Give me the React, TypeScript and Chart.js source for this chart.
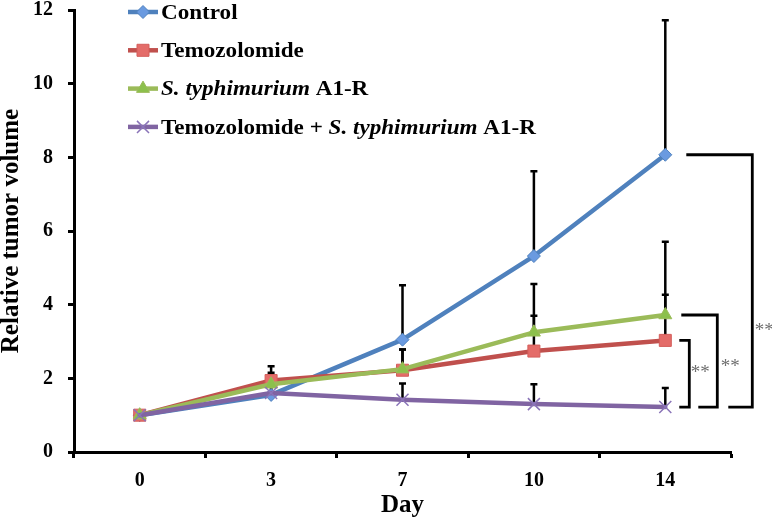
import React, { useEffect, useRef } from "react";
import { Chart, registerables } from "chart.js";

Chart.register(...registerables);

const FONT = "'Liberation Serif', 'Times New Roman', serif";

// ---- data ----
const days = ["0", "3", "7", "10", "14"];
const yTicks = [0, 2, 4, 6, 8, 10, 12];

const controlValues = [1.0, 1.55, 3.05, 5.32, 8.07];
const controlErrors = [0, 0.3, 1.48, 2.3, 3.65];

const temozolomideValues = [1.0, 1.94, 2.22, 2.74, 3.03];
const temozolomideErrors = [0, 0.39, 0.56, 0.96, 1.24];

const salmonellaValues = [1.0, 1.84, 2.25, 3.25, 3.72];
const salmonellaErrors = [0, 0.31, 0.53, 1.31, 1.99];

const comboValues = [1.0, 1.6, 1.42, 1.3, 1.22];
const comboErrors = [0, 0.2, 0.44, 0.54, 0.52];

const seriesNames = [
  "Control",
  "Temozolomide",
  "S. typhimurium A1-R",
  "Temozolomide + S. typhimurium A1-R",
];

// legend text split in plain / italic parts
const legendParts = [
  [{ text: "Control", italic: false }],
  [{ text: "Temozolomide", italic: false }],
  [
    { text: "S. typhimurium", italic: true },
    { text: " A1-R", italic: false },
  ],
  [
    { text: "Temozolomide + ", italic: false },
    { text: "S. typhimurium", italic: true },
    { text: " A1-R", italic: false },
  ],
];

// significance comparisons at the last day: [series A, series B]
const comparisons = [
  [1, 3],
  [2, 3],
  [0, 3],
];
const comparisonLabels = ["**", "**", "**"];

// ---- styles ----
const lineColors = ["#4F81BD", "#C0504D", "#9BBB59", "#8064A2"];
const markerFills = ["#6A9AE0", "#E46C69", "#8CC04C", "#8A74B8"];
const markerBorders = ["#4F81BD", "#D45E5B", "#9BBB59", "#8A74B8"];
const markerStyles = ["rectRot", "rect", "triangle", "crossRot"];
const markerRadii = [6.5, 8.5, 7.5, 8.5];

function drawMarker(ctx: CanvasRenderingContext2D, style: string, x: number, y: number, r: number, fill: string, stroke: string) {
  ctx.save();
  ctx.beginPath();
  ctx.fillStyle = fill;
  ctx.strokeStyle = stroke;
  ctx.lineWidth = style === "crossRot" ? 1.5 : 1;
  if (style === "rectRot") {
    ctx.moveTo(x - r, y);
    ctx.lineTo(x, y - r);
    ctx.lineTo(x + r, y);
    ctx.lineTo(x, y + r);
    ctx.closePath();
    ctx.fill();
    ctx.stroke();
  } else if (style === "rect") {
    const s = Math.SQRT1_2 * r;
    ctx.rect(x - s, y - s, 2 * s, 2 * s);
    ctx.fill();
    ctx.stroke();
  } else if (style === "triangle") {
    let a = 0;
    ctx.moveTo(x + Math.sin(a) * r, y - Math.cos(a) * r);
    a += (2 * Math.PI) / 3;
    ctx.lineTo(x + Math.sin(a) * r, y - Math.cos(a) * r);
    a += (2 * Math.PI) / 3;
    ctx.lineTo(x + Math.sin(a) * r, y - Math.cos(a) * r);
    ctx.closePath();
    ctx.fill();
    ctx.stroke();
  } else {
    const o = Math.SQRT1_2 * r;
    ctx.moveTo(x - o, y - o);
    ctx.lineTo(x + o, y + o);
    ctx.moveTo(x + o, y - o);
    ctx.lineTo(x - o, y + o);
    ctx.stroke();
  }
  ctx.restore();
}

const errorBarPlugin = {
  id: "errorBars",
  beforeDatasetsDraw(chart: any) {
    const ctx = chart.ctx as CanvasRenderingContext2D;
    const yScale = chart.scales.y;
    ctx.save();
    ctx.strokeStyle = "#000";
    ctx.lineWidth = 2.5;
    chart.data.datasets.forEach((ds: any, i: number) => {
      const meta = chart.getDatasetMeta(i);
      meta.data.forEach((pt: any, j: number) => {
        const e = ds.errors[j];
        if (!e) return;
        const v = ds.data[j];
        const y0 = yScale.getPixelForValue(v);
        const y1 = yScale.getPixelForValue(v + e);
        ctx.beginPath();
        ctx.moveTo(pt.x, y0);
        ctx.lineTo(pt.x, y1);
        ctx.moveTo(pt.x - 3.5, y1);
        ctx.lineTo(pt.x + 3.5, y1);
        ctx.stroke();
      });
    });
    ctx.restore();
  },
};

const bracketGeom = [
  { topStart: 14, bottomStart: 14, vx: 24, labelDx: 35, labelY: 368 },
  { topStart: 16, bottomStart: 33, vx: 52, labelDx: 65, labelY: 362 },
  { topStart: 21, bottomStart: 63, vx: 87, labelDx: 99, labelY: 326 },
];

const bracketPlugin = {
  id: "brackets",
  afterDatasetsDraw(chart: any) {
    const ctx = chart.ctx as CanvasRenderingContext2D;
    const xScale = chart.scales.x;
    const yScale = chart.scales.y;
    const last = days.length - 1;
    const x0 = xScale.getPixelForValue(last);
    ctx.save();
    comparisons.forEach(([a, b], k) => {
      const g = bracketGeom[k];
      const ya = yScale.getPixelForValue(chart.data.datasets[a].data[last]);
      const yb = yScale.getPixelForValue(chart.data.datasets[b].data[last]);
      ctx.strokeStyle = "#000";
      ctx.lineWidth = 2.8;
      ctx.lineJoin = "miter";
      ctx.beginPath();
      ctx.moveTo(x0 + g.topStart, ya);
      ctx.lineTo(x0 + g.vx, ya);
      ctx.lineTo(x0 + g.vx, yb);
      ctx.lineTo(x0 + g.bottomStart, yb);
      ctx.stroke();
      ctx.fillStyle = "#6E6E6E";
      ctx.font = `19px ${FONT}`;
      ctx.textAlign = "center";
      ctx.textBaseline = "alphabetic";
      ctx.fillText(comparisonLabels[k], x0 + g.labelDx, g.labelY + 10);
    });
    ctx.restore();
  },
};

const legendPlugin = {
  id: "customLegend",
  afterDraw(chart: any) {
    const ctx = chart.ctx as CanvasRenderingContext2D;
    ctx.save();
    legendParts.forEach((parts, i) => {
      const y = 12 + i * 38.3;
      ctx.strokeStyle = lineColors[i];
      ctx.lineWidth = 4.5;
      ctx.lineCap = "butt";
      ctx.beginPath();
      ctx.moveTo(128, y);
      ctx.lineTo(158, y);
      ctx.stroke();
      drawMarker(ctx, markerStyles[i], 143, y, markerRadii[i], markerFills[i], markerBorders[i]);
      ctx.save();
      ctx.translate(161, y + 6.6);
      ctx.scale(1.155, 1);
      ctx.fillStyle = "#000";
      ctx.textAlign = "left";
      ctx.textBaseline = "alphabetic";
      let x = 0;
      parts.forEach((p) => {
        ctx.font = `${p.italic ? "italic " : ""}bold 20px ${FONT}`;
        ctx.fillText(p.text, x, 0);
        x += ctx.measureText(p.text).width;
      });
      ctx.restore();
    });
    ctx.restore();
  },
};

export default function App() {
  const canvasRef = useRef<HTMLCanvasElement | null>(null);

  useEffect(() => {
    const canvas = canvasRef.current;
    if (!canvas) return;
    const seriesValues = [controlValues, temozolomideValues, salmonellaValues, comboValues];
    const seriesErrors = [controlErrors, temozolomideErrors, salmonellaErrors, comboErrors];

    const chart = new Chart(canvas, {
      type: "line",
      data: {
        labels: days,
        datasets: seriesNames.map((name, i) => ({
          label: name,
          data: seriesValues[i],
          errors: seriesErrors[i],
          borderColor: lineColors[i],
          backgroundColor: markerFills[i],
          borderWidth: 4.5,
          tension: 0,
          fill: false,
          borderJoinStyle: "round",
          borderCapStyle: "round",
          pointStyle: markerStyles[i],
          pointRadius: markerRadii[i],
          pointBackgroundColor: markerFills[i],
          pointBorderColor: markerBorders[i],
          pointBorderWidth: markerStyles[i] === "crossRot" ? 1.5 : 1,
          order: seriesNames.length - 1 - i,
        })) as any,
      },
      options: {
        responsive: false,
        animation: false,
        devicePixelRatio: 1,
        layout: { padding: { left: 0, right: 41, top: 8, bottom: 0 } },
        plugins: {
          legend: { display: false },
          tooltip: { enabled: false },
        },
        scales: {
          x: {
            type: "category",
            offset: true,
            grid: {
              offset: true,
              drawOnChartArea: false,
              drawTicks: true,
              tickLength: 6,
              tickWidth: 3,
              tickColor: "#000",
            },
            border: { display: true, color: "#000", width: 3 },
            ticks: {
              color: "#000",
              font: { family: FONT, size: 20, weight: "bold" },
              padding: 11,
              maxRotation: 0,
            },
            title: {
              display: true,
              text: "Day",
              color: "#000",
              font: { family: FONT, size: 25, weight: "bold", lineHeight: 1.2 },
              padding: { top: 3, bottom: 0 },
            },
            afterFit(scale: any) {
              scale.height = 69;
              scale.paddingLeft = 0;
              scale.paddingRight = 0;
            },
          },
          y: {
            min: 0,
            max: 12,
            afterBuildTicks(scale: any) {
              scale.ticks = yTicks.map((v) => ({ value: v }));
            },
            grid: {
              drawOnChartArea: false,
              drawTicks: true,
              tickLength: 6,
              tickWidth: 3,
              tickColor: "#000",
            },
            border: { display: true, color: "#000", width: 3 },
            ticks: {
              color: "#000",
              font: { family: FONT, size: 20, weight: "bold" },
              padding: 15,
            },
            title: {
              display: true,
              text: "Relative tumor volume",
              color: "#000",
              font: { family: FONT, size: 25, weight: "bold", lineHeight: 0.9 },
              padding: 0,
            },
            afterFit(scale: any) {
              scale.width = 74;
              scale.paddingTop = 0;
              scale.paddingBottom = 0;
            },
          },
        },
      } as any,
      plugins: [errorBarPlugin, bracketPlugin, legendPlugin],
    });

    return () => chart.destroy();
  }, []);

  return (
    <div style={{ position: "fixed", left: 0, top: 0, width: 772, height: 521, background: "#fff" }}>
      <canvas ref={canvasRef} width={772} height={521} style={{ width: 772, height: 521, display: "block" }} />
    </div>
  );
}
